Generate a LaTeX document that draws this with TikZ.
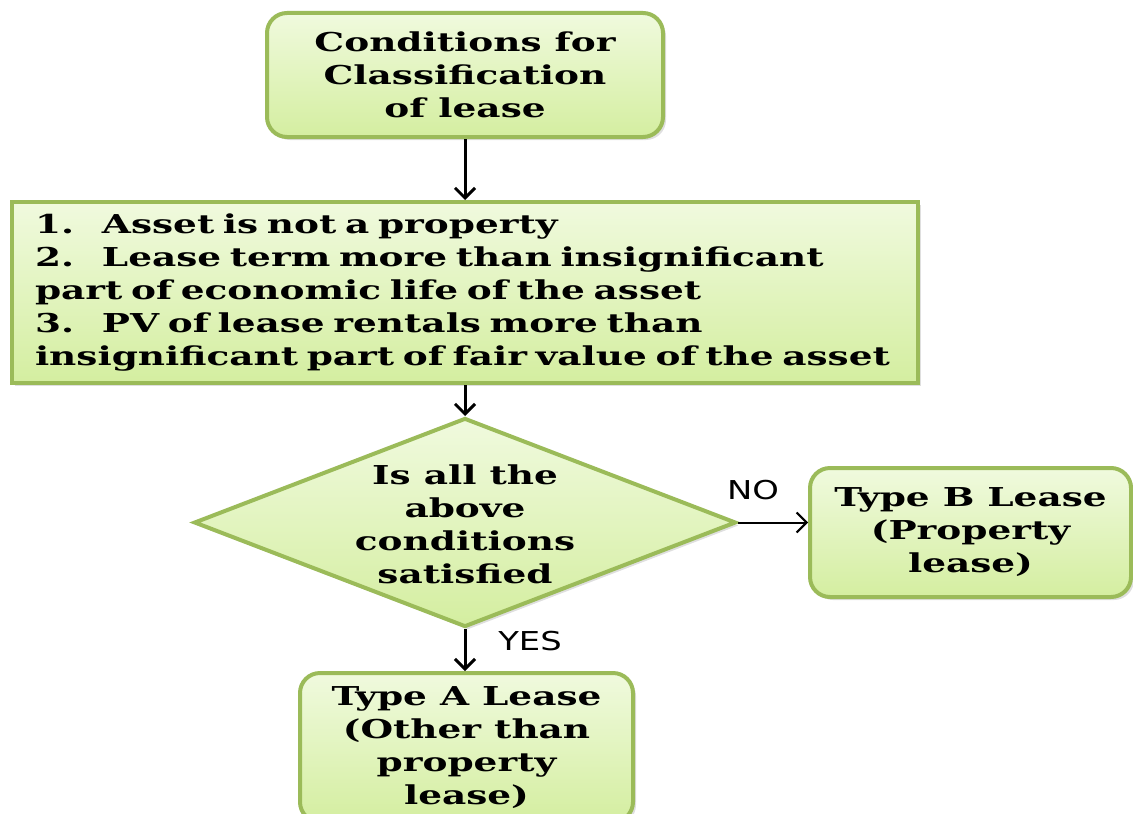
\documentclass[tikz,border=0pt]{standalone}
\usepackage{fontspec}
\setmainfont{DejaVu Serif}[FakeStretch=1.44]
\newfontfamily\labelfont{DejaVu Sans}[FakeStretch=1.3]
\usetikzlibrary{shapes.geometric,arrows.meta,shadows}
\definecolor{boxline}{RGB}{155,187,89}
\definecolor{boxtop}{RGB}{240,250,222}
\definecolor{boxbot}{RGB}{212,238,160}

\begin{document}
\begin{tikzpicture}[x=0.5pt,y=-0.5pt]
  \tikzstyle{box}=[draw=boxline,line width=2pt,top color=boxtop,bottom color=boxbot,drop shadow={opacity=0.25,shadow xshift=1.5pt,shadow yshift=-1.5pt},font=\fontsize{13}{16.5}\selectfont\bfseries,align=center,inner sep=0pt]
  \tikzstyle{rbox}=[box,rounded corners=10pt]
  \tikzstyle{dec}=[box,diamond]
  \tikzstyle{arr}=[-{Straight Barb[length=5pt,width=10pt]},line width=1.5pt]
  \tikzstyle{yn}=[font=\labelfont\fontsize{13}{15}\selectfont]

  \useasboundingbox (0,0) rectangle (1133,813);

  \node[rbox,minimum width=198pt,minimum height=62pt] (start) at (465,75) {Conditions for\\Classification\\of lease};
  \node[box,minimum width=453pt,minimum height=90.5pt,align=left,text width=430pt,inner xsep=11.5pt] (cond) at (465,292.5) {\makebox[33.5pt][l]{1.}Asset is not a property\\
    \makebox[33.5pt][l]{2.}Lease term more than insignificant\\
    part of economic life of the asset\\
    \makebox[33.5pt][l]{3.}PV of lease rentals  more than\\
    insignificant part of fair value of the asset};
  \node[dec,minimum width=271pt,minimum height=104.5pt] (check) at (465,522.5) {};
  \node[font=\fontsize{13}{16.5}\selectfont\bfseries,align=center] (question) at (465,524) {Is all the\\above\\conditions\\satisfied};
  \node[rbox,minimum width=160.5pt,minimum height=64.5pt] (typeB) at (970.5,532.5) {Type B Lease\\(Property\\lease)};
  \node[rbox,minimum width=166.5pt,minimum height=74.5pt] (typeA) at (466.5,747.5) {Type A Lease\\(Other than\\property\\lease)};

  \draw[arr] (start) -- (cond);
  \draw[arr] (cond) -- (check);
  \draw[arr,line width=1pt] (check.east) -- (check.east -| typeB.west);
  \draw[arr] (check.south) -- (check.south |- typeA.north);

  \node[yn] (no) at (753,490) {NO};
  \node[yn] (yes) at (530,641) {YES};
\end{tikzpicture}
\end{document}
